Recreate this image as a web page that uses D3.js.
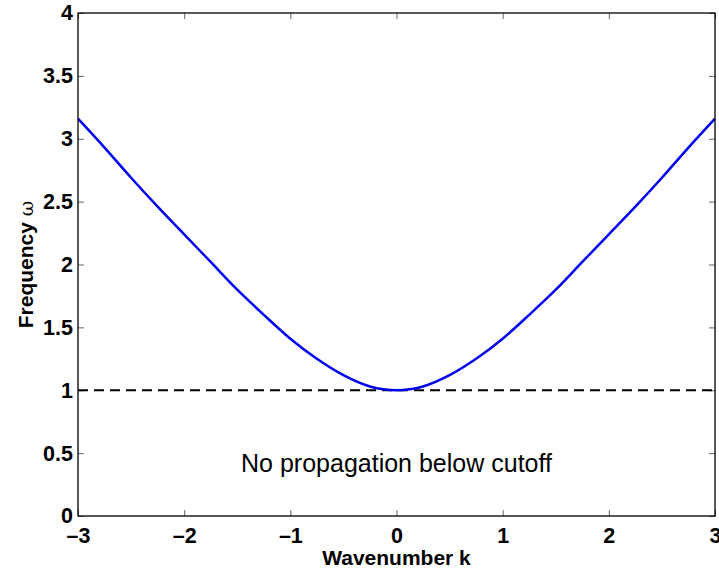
<!DOCTYPE html>
<html><head><meta charset="utf-8">
<script src="https://cdn.jsdelivr.net/npm/d3@7"></script>
<style>body{margin:0;background:#fff}svg{display:block}text{font-family:"Liberation Sans",Arial,Helvetica,sans-serif}</style>
</head><body><div id="chart"></div>
<script>
const kValues = [-3,-2.75,-2.5,-2.25,-2,-1.75,-1.5,-1.25,-1,-0.75,-0.5,-0.25,0,0.25,0.5,0.75,1,1.25,1.5,1.75,2,2.25,2.5,2.75,3];
const omegaValues = [3.16,2.93,2.69,2.46,2.24,2.02,1.80,1.60,1.41,1.25,1.12,1.03,1.00,1.03,1.12,1.25,1.41,1.60,1.80,2.02,2.24,2.46,2.69,2.93,3.16];
const cutoff = [1, 1];
const xTicks = [-3,-2,-1,0,1,2,3];
const yTicks = [0,0.5,1,1.5,2,2.5,3,3.5,4];
const annotation = "No propagation below cutoff";

const W = 719, H = 568;
const m = {left:78, right:4, top:13, bottom:52};
const svg = d3.select("#chart").append("svg").attr("width",W).attr("height",H);
const x = d3.scaleLinear().domain([-3,3]).range([m.left, W-m.right]);
const y = d3.scaleLinear().domain([0,4]).range([H-m.bottom, m.top]);
const fmt = d => d<0 ? "\u2013"+Math.abs(d) : String(d);

const g = svg.append("g");
const tl = 6;
g.append("g").attr("transform",`translate(0,${y(0)})`).call(d3.axisBottom(x).tickValues(xTicks).tickSize(-tl).tickFormat(fmt).tickPadding(0))
 .call(a=>{a.select(".domain").remove(); a.selectAll("text").attr("font-size",21.5).attr("font-weight","bold").attr("fill","#000").attr("y",27).attr("dy",0);});
g.append("g").attr("transform",`translate(0,${y(4)})`).call(d3.axisTop(x).tickValues(xTicks).tickSize(-tl).tickFormat(""))
 .call(a=>a.select(".domain").remove());
g.append("g").attr("transform",`translate(${x(-3)},0)`).call(d3.axisLeft(y).tickValues(yTicks).tickSize(-tl).tickFormat(d3.format("")).tickPadding(5))
 .call(a=>{a.select(".domain").remove(); a.selectAll("text").attr("font-size",21.5).attr("font-weight","bold").attr("fill","#000");});
g.append("g").attr("transform",`translate(${x(3)},0)`).call(d3.axisRight(y).tickValues(yTicks).tickSize(-tl).tickFormat(""))
 .call(a=>a.select(".domain").remove());
g.selectAll(".tick line").attr("stroke","#666").attr("stroke-width",1);

svg.append("line").attr("x1",x(-3)).attr("x2",x(3)).attr("y1",y(cutoff[0])).attr("y2",y(cutoff[1]))
  .attr("stroke","#000").attr("stroke-width",2.2).attr("stroke-dasharray","10,6");

const data = kValues.map((k,i)=>[k,omegaValues[i]]);
svg.append("path").datum(data).attr("fill","none").attr("stroke","#0000f0").attr("stroke-width",2.5)
  .attr("d", d3.line().x(d=>x(d[0])).y(d=>y(d[1])).curve(d3.curveCatmullRom));

svg.append("rect").attr("x",x(-3)).attr("y",y(4)).attr("width",x(3)-x(-3)).attr("height",y(0)-y(4))
  .attr("fill","none").attr("stroke","#000").attr("stroke-width",1.3);

svg.append("text").attr("x",x(0)).attr("y",472).attr("text-anchor","middle").attr("font-size",25).text(annotation);

svg.append("text").attr("x",x(0)).attr("y",565).attr("text-anchor","middle").attr("font-size",21).attr("font-weight","bold").text("Wavenumber k");
const yl = svg.append("text").attr("transform",`translate(${33},${y(2)}) rotate(-90)`).attr("text-anchor","middle").attr("font-size",21).attr("font-weight","bold");
yl.append("tspan").text("Frequency ");
yl.append("tspan").attr("font-weight","normal").attr("font-family","DejaVu Serif, serif").attr("font-size",19).text("ω");
</script></body></html>
